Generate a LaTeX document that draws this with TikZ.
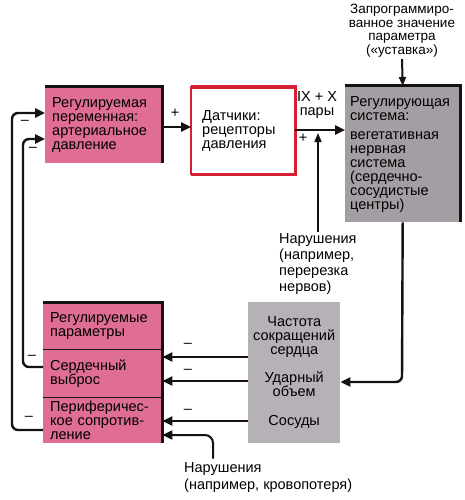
\documentclass[tikz,border=0pt]{standalone}
\usepackage{fontspec}
\setmainfont{Liberation Sans}
\usetikzlibrary{arrows.meta}
\definecolor{pinkc}{RGB}{224,110,146}
\definecolor{greyc}{RGB}{163,158,163}
\definecolor{greyl}{RGB}{182,177,182}
\definecolor{redc}{RGB}{214,32,50}
\definecolor{darkc}{RGB}{22,18,20}
\begin{document}
\hyphenpenalty=10000
\begin{tikzpicture}[x=1pt,y=-1pt,
  txt/.style={font=\fontsize{14.5}{14}\selectfont, text=black, inner sep=0pt},
  boxnode/.style={txt, anchor=north west, align=left, inner ysep=0pt},
  pinkbox/.style={boxnode, fill=pinkc},
  edgeline/.style={line width=3pt, darkc},
  arr/.style={line width=2.4pt, darkc, -{Triangle[length=10pt,width=9pt]}},
  thinarr/.style={line width=1.6pt, darkc, -{Triangle[length=9pt,width=7pt]}},
  sign/.style={txt}
]
\useasboundingbox (0,0) rectangle (464,500);

% upper boxes
\node[pinkbox, text width=103pt, inner xsep=7pt, minimum height=76pt] (b1) at (45,87)
  {Регулируемая\\переменная:\\артериальное\\давление};
\node[boxnode, fill=white, text width=82pt, inner xsep=11pt, minimum height=87pt] (b2) at (191,87)
  {Датчики:\\рецепторы\\давления};
\node[boxnode, fill=greyc, text width=105pt, inner xsep=5pt, minimum height=136pt] (b3) at (345,86)
  {Регулирующая\\система:\\[5pt]вегетативная\\нервная\\система\\(сердечно-\\сосудистые\\центры)};

% borders of upper boxes
\draw[edgeline] (b1.north west) -- (b1.north east) -- (b1.south east);
\draw[edgeline] (b3.north west) -- (b3.north east) -- (b3.south east);
\draw[redc, line width=2pt] (b2.north west) rectangle (b2.south east);
\draw[redc, line width=3.5pt] (b2.north west) -- (b2.north east) -- (b2.south east) -- (b2.south west);

% lower pink box (three cells)
\node[pinkbox, text width=105pt, inner xsep=7pt, minimum height=47pt] (c1) at (43,302)
  {Регулируемые\\параметры};
\node[pinkbox, text width=105pt, inner xsep=7pt, minimum height=48pt] (c2) at (43,349)
  {Сердечный\\выброс};
\node[pinkbox, text width=105pt, inner xsep=7pt, minimum height=46pt] (c3) at (43,397)
  {Периферичес-\\\makebox[101pt][s]{кое сопротив-}\\ление};
\draw[darkc, line width=1.2pt] (c1.south west) -- (c1.south east);
\draw[darkc, line width=1.2pt] (c2.south west) -- (c2.south east);
\draw[edgeline] (c1.north west) -- (c1.north east) -- (c3.south east);

% lower grey box
\node[boxnode, fill=greyl, align=center, text width=92pt, inner xsep=0pt, minimum height=141pt] (gb) at (248,302)
  {Частота\\сокращений\\сердца\\[14pt]Ударный\\объем\\[15pt]Сосуды};

% texts
\node[txt, anchor=north, align=center, font=\fontsize{13.5}{13.5}\selectfont] (set) at (402,4)
  {Запрограммиро-\\ванное значение\\параметра\\(«уставка»)};
\node[txt, align=center] (ix) at (317,105) {IX + X\\пары};
\node[txt, anchor=north west, align=left, font=\fontsize{14.5}{16}\selectfont] (n1) at (279,233.5)
  {Нарушения\\(например,\\перерезка\\нервов)};
\node[txt, anchor=north west, align=left, font=\fontsize{14.5}{17}\selectfont] (n2) at (184,462.5)
  {Нарушения\\(например, кровопотеря)};

% signs
\node[sign] (p1) at (175,113) {+};
\node[sign] (p2) at (303,138) {+};
\node[sign] (m1) at (25,122) {–};
\node[sign] (m2) at (33,149) {–};
\node[sign] (m3) at (32,357) {–};
\node[sign] (m4) at (29,418) {–};
\node[sign] (m5) at (188,345) {–};
\node[sign] (m6) at (188,371) {–};
\node[sign] (m7) at (188,411) {–};

% connectors
\draw[arr] (b1.east |- 0,127) -- (b2.west |- 0,127);
\draw[arr] (b2.east |- 0,130) -- (b3.west |- 0,130);
\coordinate (jn) at (318,133);
\draw[thinarr] ([yshift=2pt]n1.north -| 318,0) -- (jn);
\draw[thinarr, line width=2pt] ([yshift=-2pt]set.south) -- (b3.north);
\draw[arr, rounded corners=6pt] (b3.south) -- (402,382) -- (gb.east |- 0,382);
\draw[arr] (gb.west |- 0,357) -- (c2.east |- 0,357);
\draw[arr] (gb.west |- 0,381) -- (c2.east |- 0,381);
\draw[arr] (gb.west |- 0,421) -- (c3.east |- 0,421);
\draw[arr, line width=2pt, rounded corners=8pt] ([yshift=4pt]n2.north -| 213,0) -- (213,435) -- (c3.east |- 0,435);
\draw[arr, rounded corners=6pt] (c3.west |- 0,430) -- (12,430) -- (12,113) -- (b1.west |- 0,113);
\draw[arr, rounded corners=6pt] (c2.west |- 0,367) -- (23,367) -- (23,139) -- (b1.west |- 0,139);
\end{tikzpicture}
\end{document}
